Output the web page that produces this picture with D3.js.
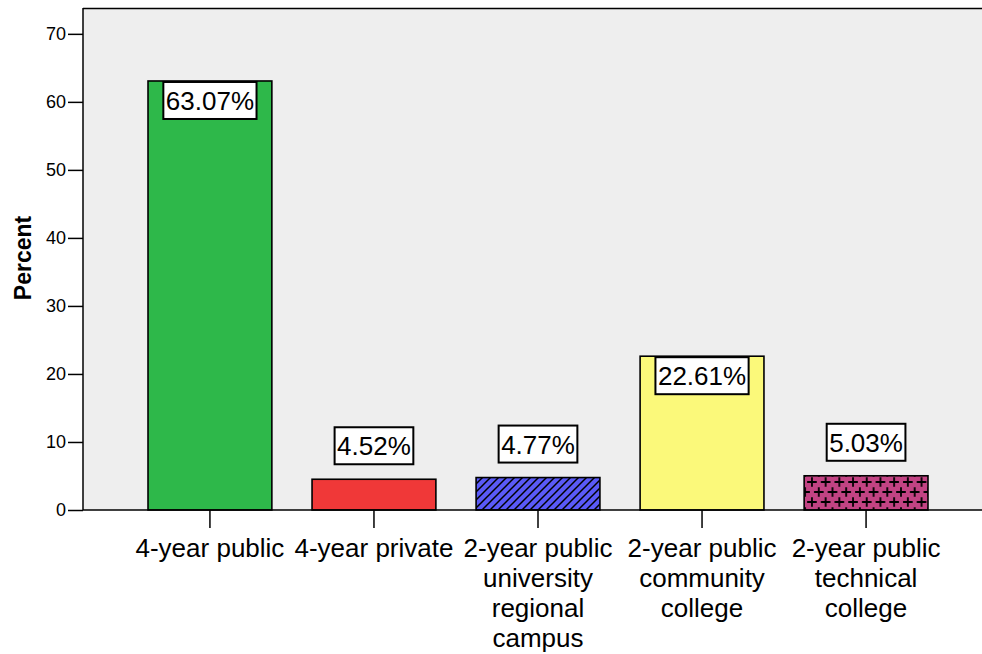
<!DOCTYPE html>
<html>
<head>
<meta charset="utf-8">
<script src="https://cdn.jsdelivr.net/npm/d3@7/dist/d3.min.js"></script>
<style>
  html, body { margin: 0; padding: 0; background: #ffffff; }
  svg { display: block; font-family: Arial, "Liberation Sans", sans-serif; }
</style>
</head>
<body>
<svg id="chart" width="982" height="654"></svg>
<script>
// Institution types and the share of students in each
const categories = [
  ["4-year public"],
  ["4-year private"],
  ["2-year public", "university", "regional", "campus"],
  ["2-year public", "community", "college"],
  ["2-year public", "technical", "college"]
];
const percents = [63.07, 4.52, 4.77, 22.61, 5.03];
const yTicks = [0, 10, 20, 30, 40, 50, 60, 70];
const fills = ["#2eb84a", "#f03838", "url(#hatch)", "#fbf97a", "url(#crosses)"];

const FONT = "Arial, 'Liberation Sans', sans-serif";
const plot = { left: 83, top: 8, right: 982, bottom: 510 };

const svg = d3.select("#chart");
const defs = svg.append("defs");

// Diagonal hatching on blue
const hatch = defs.append("pattern")
  .attr("id", "hatch").attr("patternUnits", "userSpaceOnUse")
  .attr("width", 8).attr("height", 8);
hatch.append("rect").attr("width", 8).attr("height", 8).attr("fill", "#5a5af8");
hatch.append("path").attr("d", "M-2,2 L2,-2 M0,8 L8,0 M6,10 L10,6")
  .attr("stroke", "#000").attr("stroke-width", 1.5);

// Offset grid of plus signs on magenta
const cw = 13.7, ch = 20;
const crosses = defs.append("pattern")
  .attr("id", "crosses").attr("patternUnits", "userSpaceOnUse")
  .attr("x", 10.5).attr("y", -3)
  .attr("width", cw).attr("height", ch);
crosses.append("rect").attr("width", cw).attr("height", ch).attr("fill", "#c24383");
const arm = 4.8;
const centers = [[cw / 2, 5], [0, 15], [cw, 15], [cw / 2, 25], [cw / 2, -5], [0, -5], [cw, -5], [0, 25], [cw, 25]];
crosses.append("path")
  .attr("d", centers.map(([cx, cy]) =>
    `M${cx - arm},${cy}H${cx + arm}M${cx},${cy - arm}V${cy + arm}`).join(""))
  .attr("stroke", "#000").attr("stroke-width", 1.8);

const y = d3.scaleLinear().domain([0, 73.8]).range([plot.bottom, plot.top]);
const x = d3.scaleBand().domain(d3.range(categories.length))
  .range([128, 948]).paddingInner(0.245).paddingOuter(0.122);

// Plot background
svg.append("rect")
  .attr("x", plot.left).attr("y", plot.top)
  .attr("width", plot.right - plot.left).attr("height", plot.bottom - plot.top)
  .attr("fill", "#eeeeee");
svg.append("line")
  .attr("x1", plot.left).attr("x2", plot.right)
  .attr("y1", plot.top + 0.5).attr("y2", plot.top + 0.5)
  .attr("stroke", "#000").attr("stroke-width", 1.5);

// Bars
svg.append("g").selectAll("rect").data(percents).join("rect")
  .attr("x", (d, i) => x(i))
  .attr("y", d => y(d))
  .attr("width", x.bandwidth())
  .attr("height", d => y(0) - y(d))
  .attr("fill", (d, i) => fills[i])
  .attr("stroke", "#000").attr("stroke-width", 1.6);

// Y axis
const yAxis = svg.append("g")
  .attr("transform", `translate(${plot.left},0)`)
  .call(d3.axisLeft(y).tickValues(yTicks).tickSize(15).tickPadding(2));
yAxis.attr("font-size", 18).attr("font-family", FONT);
yAxis.select(".domain").attr("stroke-width", 1.5)
  .attr("d", `M0,${plot.top}V${plot.bottom}`);
yAxis.selectAll(".tick line").attr("stroke-width", 1.5);
yAxis.selectAll(".tick text")
  .attr("font-size", 18).style("font-size", "18px").attr("fill", "#000");

// X axis
const xAxis = svg.append("g")
  .attr("transform", `translate(0,${plot.bottom})`)
  .call(d3.axisBottom(x).tickSize(18).tickFormat(""));
xAxis.select(".domain").attr("d", `M${plot.left},0H${plot.right}`).attr("stroke-width", 1.5);
xAxis.selectAll(".tick line").attr("stroke-width", 1.5);

// Category labels (multi-line)
const catLabels = svg.append("g")
  .style("font-size", "26px").attr("text-anchor", "middle").attr("fill", "#000");
categories.forEach((lines, i) => {
  const cx = x(i) + x.bandwidth() / 2;
  const t = catLabels.append("text").attr("x", cx);
  lines.forEach((ln, j) => {
    t.append("tspan").attr("x", cx).attr("y", 557 + j * 30).text(ln);
  });
});

// Y axis title
svg.append("text")
  .attr("transform", "translate(31,258) rotate(-90)")
  .attr("text-anchor", "middle")
  .style("font-size", "23px").attr("font-weight", "bold")
  .text("Percent");

// Value labels in boxes
const labels = svg.append("g");
percents.forEach((d, i) => {
  const cx = x(i) + x.bandwidth() / 2;
  const txt = d.toFixed(2) + "%";
  const g = labels.append("g");
  const text = g.append("text")
    .attr("x", cx).attr("text-anchor", "middle")
    .style("font-size", "26px").text(txt);
  const bw = text.node().getComputedTextLength() + 5;
  const bh = 37;
  const barTop = y(d);
  const boxTop = (y(0) - barTop > bh + 20) ? barTop + 1 : barTop - 15 - bh;
  g.insert("rect", "text")
    .attr("x", cx - bw / 2).attr("y", boxTop)
    .attr("width", bw).attr("height", bh)
    .attr("fill", "#fff").attr("stroke", "#000").attr("stroke-width", 2);
  text.attr("y", boxTop + 28);
});
</script>
</body>
</html>
